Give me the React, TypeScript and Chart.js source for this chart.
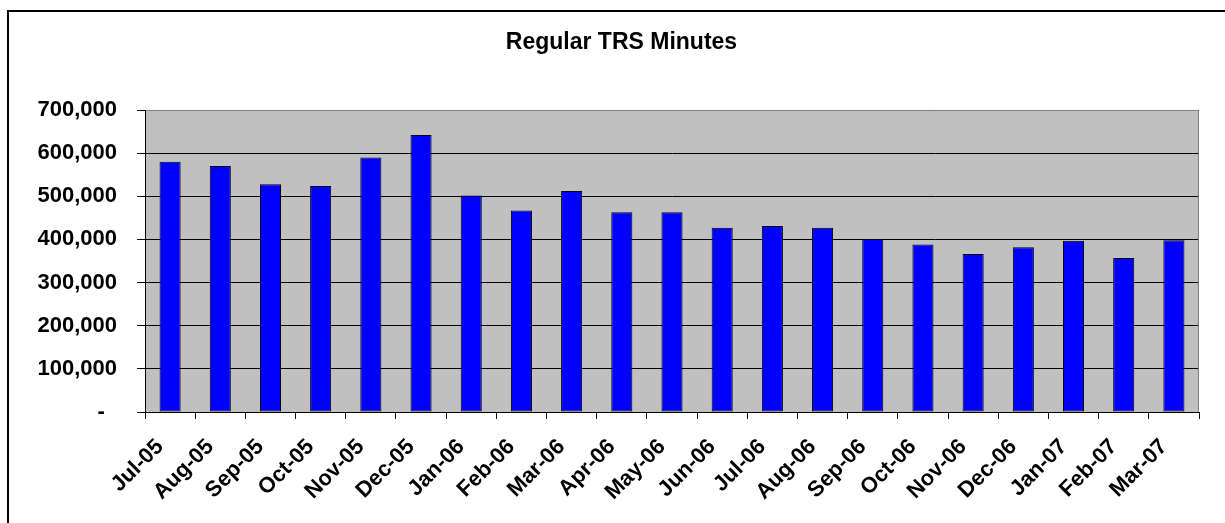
import React, { useEffect, useRef } from "react";
import { Chart, registerables } from "chart.js";

Chart.register(...registerables);

const categories = [
  "Jul-05", "Aug-05", "Sep-05", "Oct-05", "Nov-05", "Dec-05", "Jan-06",
  "Feb-06", "Mar-06", "Apr-06", "May-06", "Jun-06", "Jul-06", "Aug-06",
  "Sep-06", "Oct-06", "Nov-06", "Dec-06", "Jan-07", "Feb-07", "Mar-07",
];

const minutes = [
  580000, 570000, 528000, 524000, 590000, 642000, 502000,
  467000, 512000, 463000, 463000, 427000, 431000, 427000,
  401000, 388000, 366000, 382000, 397000, 357000, 398000,
];

const yTickLabels = [
  "-", "100,000", "200,000", "300,000", "400,000", "500,000", "600,000", "700,000",
];

const titleText = "Regular TRS Minutes";

const FONT = "Arial, 'Liberation Sans', sans-serif";

const framePlugin = {
  id: "frame",
  afterLayout(chart: any) {
    // let the y-axis labels extend to the canvas edge (avoid label clipping)
    const y = chart.scales.y;
    if (y) y.left = 0;
  },
  beforeDraw(chart: any) {
    const { ctx, chartArea } = chart;
    ctx.save();
    ctx.fillStyle = "#C0C0C0";
    ctx.fillRect(chartArea.left, chartArea.top, chartArea.right - chartArea.left, chartArea.bottom - chartArea.top);
    ctx.restore();
  },
  beforeDatasetsDraw(chart: any) {
    const { ctx, chartArea } = chart;
    ctx.save();
    ctx.strokeStyle = "#808080";
    ctx.lineWidth = 1;
    ctx.beginPath();
    ctx.moveTo(chartArea.left + 1, Math.round(chartArea.top) + 0.5);
    ctx.lineTo(Math.round(chartArea.right) - 0.5, Math.round(chartArea.top) + 0.5);
    ctx.lineTo(Math.round(chartArea.right) - 0.5, chartArea.bottom);
    ctx.stroke();
    ctx.restore();
  },
  afterDraw(chart: any) {
    const { ctx } = chart;
    ctx.save();
    ctx.strokeStyle = "#000";
    ctx.lineWidth = 2;
    ctx.strokeRect(8, 11, chart.width + 40, chart.height + 40);
    ctx.restore();
  },
};

export default function App() {
  const ref = useRef<HTMLCanvasElement | null>(null);

  useEffect(() => {
    if (!ref.current) return;
    const chart = new Chart(ref.current, {
      type: "bar",
      data: {
        labels: categories,
        datasets: [
          {
            label: titleText,
            data: minutes,
            backgroundColor: "#0000FF",
            borderColor: "#000000",
            borderWidth: 1,
            borderSkipped: false,
            categoryPercentage: 1,
            barPercentage: 0.42,
          },
        ],
      },
      options: {
        responsive: false,
        animation: false,
        layout: { padding: { left: 44, right: 26, top: 0, bottom: 0 } },
        plugins: {
          legend: { display: false },
          tooltip: { enabled: false },
          title: {
            display: true,
            text: titleText,
            color: "#000",
            font: { family: FONT, size: 23, weight: "bold" },
            padding: { top: 29, bottom: 53.4 },
          },
        },
        scales: {
          x: {
            offset: true,
            grid: {
              display: true,
              drawOnChartArea: false,
              drawTicks: true,
              tickLength: 7,
              color: "#000",
              offset: true,
            },
            border: { display: true, color: "#000", width: 1 },
            ticks: {
              color: "#000",
              font: { family: FONT, size: 22, weight: "bold" },
              maxRotation: 45,
              minRotation: 45,
              padding: 15,
              labelOffset: -10,
              autoSkip: false,
            },
            afterFit: (scale: any) => {
              scale.height = 111;
            },
          },
          y: {
            min: 0,
            max: 700000,
            grid: {
              color: "#000",
              lineWidth: 1,
              drawTicks: true,
              tickLength: 8,
            },
            border: { display: true, color: "#000", width: 1 },
            ticks: {
              stepSize: 100000,
              color: "#000",
              padding: 20,
              font: { family: FONT, size: 22, weight: "bold" },
              callback: (_v: any, i: number) => (i === 0 ? yTickLabels[0] + "  " : yTickLabels[i]),
            },
            afterFit: (scale: any) => {
              scale.width = 101;
            },
          },
        },
      },
      plugins: [framePlugin],
    });
    return () => chart.destroy();
  }, []);

  return (
    <div style={{ position: "fixed", left: 0, top: 0, width: 1225, height: 523, overflow: "hidden", background: "#fff" }}>
      <canvas ref={ref} width={1225} height={523} style={{ display: "block" }} />
    </div>
  );
}
